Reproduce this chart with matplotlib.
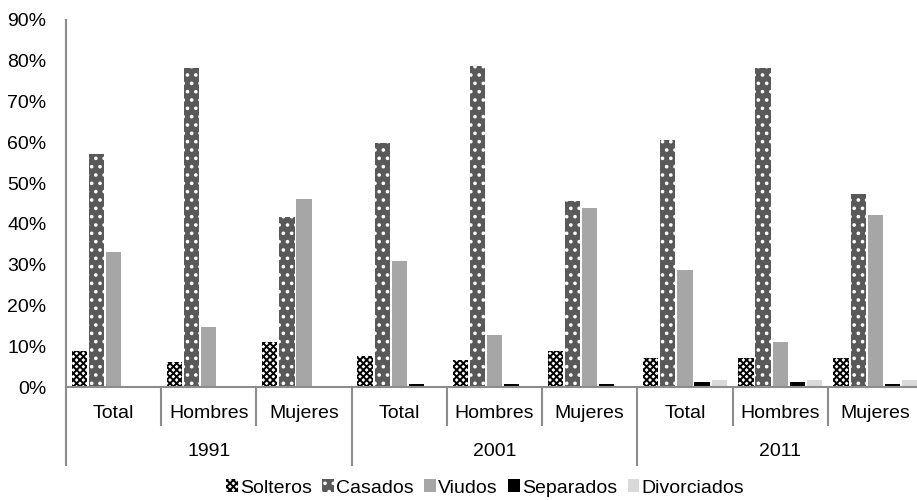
import numpy as np
import matplotlib
matplotlib.use("Agg")
import matplotlib.pyplot as plt
from matplotlib.ticker import PercentFormatter

plt.rcParams['font.family'] = ['Liberation Sans', 'DejaVu Sans']
plt.rcParams['hatch.linewidth'] = 1.4

years = ['1991', '2001', '2011']
groups = ['Total', 'Hombres', 'Mujeres']
series = ['Solteros', 'Casados', 'Viudos', 'Separados', 'Divorciados']

# percentages, order: 1991 T/H/M, 2001 T/H/M, 2011 T/H/M
solteros = [8.8, 6.1, 11.0, 7.6, 6.6, 8.8, 7.1, 7.1, 7.1]
casados = [57.2, 78.2, 41.7, 59.8, 78.7, 45.6, 60.5, 78.2, 47.3]
viudos = [33.1, 14.8, 46.1, 30.8, 12.7, 44.0, 28.6, 11.0, 42.3]
separados = [0.2, 0.2, 0.2, 0.7, 0.7, 0.7, 1.3, 1.3, 0.7]
divorciados = [0.0, 0.0, 0.0, 0.0, 0.0, 0.0, 1.8, 1.8, 1.8]

values = [solteros, casados, viudos, separados, divorciados]
faces = ['white', '#595959', '#a6a6a6', 'black', '#d9d9d9']
hatch_cols = ['black', 'white', '#a6a6a6', 'black', '#d9d9d9']
hatches = ['xxxxx', '..', None, None, None]

fs = 14

fig = plt.figure(figsize=(9.17, 5.0), dpi=100)
ax = fig.add_axes([66 / 917, 113 / 500, (923 - 66) / 917, (387 - 20) / 500])

x = np.arange(len(solteros))
width = 0.16
step = 0.18
for i, (name, vals) in enumerate(zip(series, values)):
    ax.bar(x + (i - 2) * step, vals, width, color=faces[i], edgecolor=hatch_cols[i],
           hatch=hatches[i], linewidth=0, label=name)

ax.set_xlim(-0.5, len(x) - 0.5)
ax.set_ylim(0, 90)
ax.set_yticks(np.arange(0, 91, 10))
ax.yaxis.set_major_formatter(PercentFormatter(decimals=0))
ax.tick_params(axis='y', length=0, pad=14, labelsize=fs)
ax.tick_params(axis='x', length=0, labelbottom=False)

axis_col = '#8c8c8c'
for s in ['top', 'right']:
    ax.spines[s].set_visible(False)
ax.spines['left'].set_visible(False)
ax.spines['bottom'].set_color(axis_col)
ax.spines['bottom'].set_linewidth(1.5)

# two-level category axis
trans = ax.get_xaxis_transform()
ax.plot([-0.5, -0.5], [1, -78 / 367], color=axis_col, lw=1.5, transform=trans, clip_on=False)
for k in range(1, len(x)):
    bottom = -78 / 367 if k % 3 == 0 else -38 / 367
    ax.plot([k - 0.5, k - 0.5], [0, bottom], color=axis_col, lw=1.5, transform=trans, clip_on=False)
for k in range(len(x)):
    ax.text(k, -26 / 367, groups[k % 3], ha='center', va='center', fontsize=fs,
            transform=trans)
for j, yr in enumerate(years):
    ax.text(3 * j + 1, -64 / 367, yr, ha='center', va='center', fontsize=fs,
            transform=trans)

fig.legend(loc='center', bbox_to_anchor=(0.529, 0.024), ncol=5, frameon=False,
           fontsize=fs, handlelength=0.6, handleheight=0.6, handletextpad=0.1,
           columnspacing=0.55)

fig.savefig('out.png', dpi=100)
